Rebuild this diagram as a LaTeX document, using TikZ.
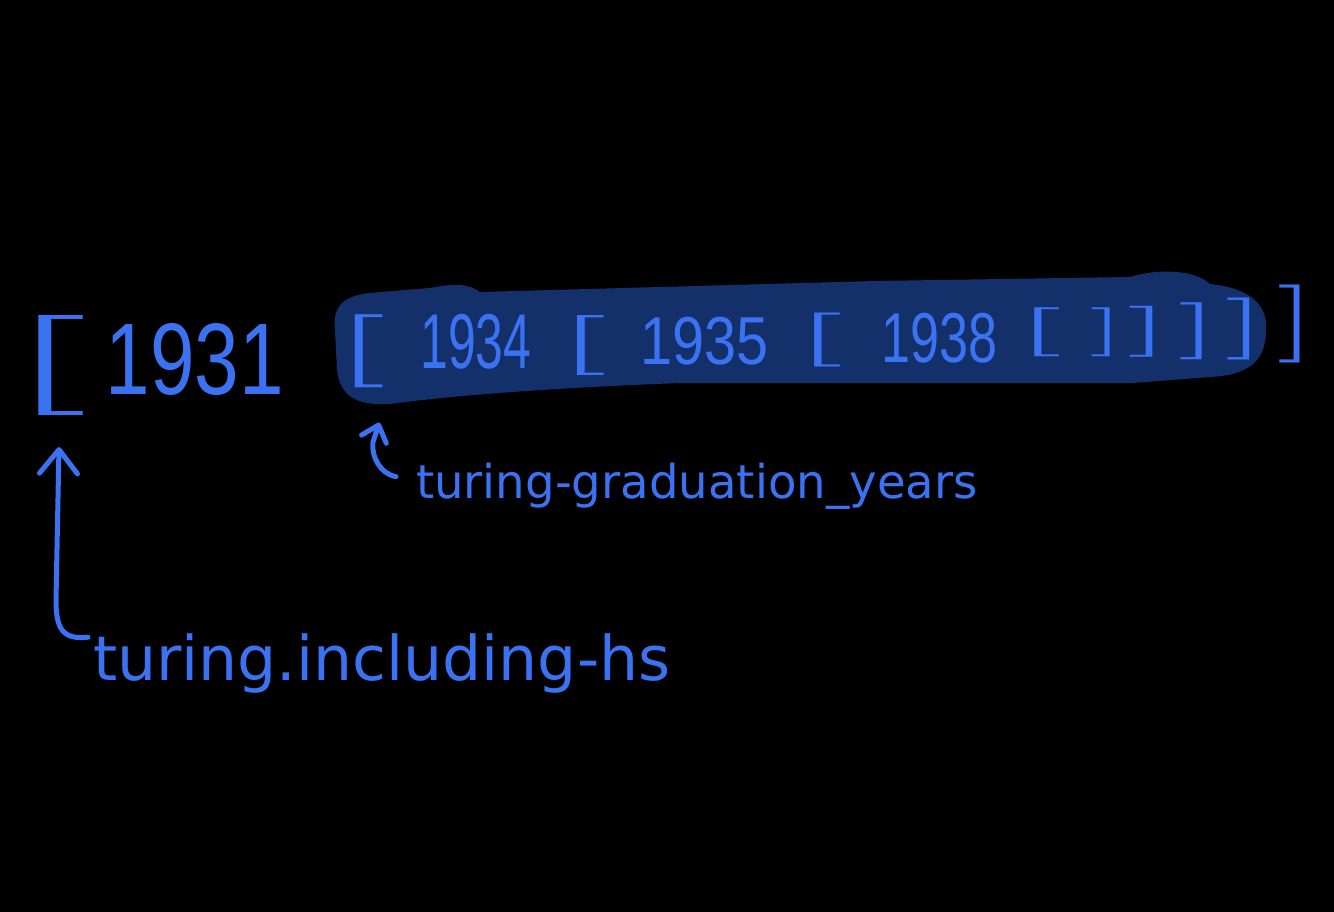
\documentclass[tikz,border=0pt]{standalone}
\usepackage{fontspec}
\usepackage{graphicx}
\usetikzlibrary{arrows.meta}
\newfontfamily\handfont{DejaVu Sans}
\newfontfamily\digitfont{Liberation Sans}
\definecolor{ink}{HTML}{3A72F2}
\definecolor{hl}{HTML}{13306A}
\newcommand\tk[3]{\resizebox*{#1pt}{#2pt}{#3}}
\begin{document}
\begin{tikzpicture}[x=1pt,y=-1pt,
  tok/.style={inner sep=0pt,outer sep=0pt,text=ink},
  num/.style={tok,font=\digitfont},
  lblbig/.style={inner sep=0pt,outer sep=0pt,text=ink,anchor=base west,font=\handfont\fontsize{61.6}{70}\selectfont},
  lblsmall/.style={inner sep=0pt,outer sep=0pt,text=ink,anchor=base west,font=\handfont\fontsize{46.6}{52}\selectfont},
  conn/.style={draw=ink,line width=5pt,line cap=round,line join=round},
  bigtip/.style={-{Straight Barb[length=24pt,width=38pt,round]}},
  smalltip/.style={-{Straight Barb[length=15pt,width=26pt,round]}}]
\fill[black] (0,0) rectangle (1334,912);
\useasboundingbox (0,0) rectangle (1334,912);
% highlight
\fill[hl] (335,330) .. controls (332,305) and (345,296) .. (369,293)
  -- (430,288) .. controls (455,283) and (470,284) .. (480,292)
  -- (875,281) -- (1130,277) .. controls (1160,268) and (1195,270) .. (1210,284)
  .. controls (1250,288) and (1268,305) .. (1266,330)
  .. controls (1266,360) and (1250,375) .. (1210,377)
  -- (1133,383) -- (680,383) .. controls (500,390) and (420,400) .. (390,404)
  .. controls (355,406) and (340,395) .. (337,370) -- cycle;
% tokens
\node[tok] (bigL) at (46,365) {\tk{90}{100}{[}};
\node[num] (d0) at (195,359) {\tk{178}{72}{1931}};
\node[tok] (lb1) at (359.4,351) {\tk{56}{73}{[}};
\node[num] (d1) at (476,342) {\tk{111}{55}{1934}};
\node[tok] (lb2) at (581.6,345) {\tk{54}{60}{[}};
\node[num] (d2) at (705,341) {\tk{128}{48}{1935}};
\node[tok] (lb3) at (819,340) {\tk{52}{54}{[}};
\node[num] (d3) at (940,338) {\tk{116}{50}{1938}};
\node[tok] (lb4) at (1039,332) {\tk{50}{49}{[}};
\node[tok] (rb1) at (1107.6,332) {\tk{36}{49}{]}};
\node[tok] (rb2) at (1149.3,332) {\tk{46}{51}{]}};
\node[tok] (rb3) at (1199.5,331) {\tk{43}{57}{]}};
\node[tok] (rb4) at (1247,329) {\tk{44}{62}{]}};
\node[tok] (rb5) at (1297,324) {\tk{41}{78}{]}};
% labels
\node[lblbig] (L1) at (93,680) {turing.including-hs};
\node[lblsmall] (L2) at (416,498) {turing-graduation\_years};
% connectors
\coordinate (t1) at ([shift={(-5,4)}]L1.north west);
\coordinate (h1) at ([shift={(13,32)}]bigL.south);
\draw[conn,bigtip] (t1) .. controls (62,640) and (56,628) .. (56,600) -- (h1);
\coordinate (t2) at ([shift={(-20,14)}]L2.north west);
\coordinate (h2) at ([shift={(20,35)}]lb1.south);
\draw[conn,smalltip] (t2) .. controls (380,474) and (371,456) .. (373,442) -- (h2);
\end{tikzpicture}
\end{document}
